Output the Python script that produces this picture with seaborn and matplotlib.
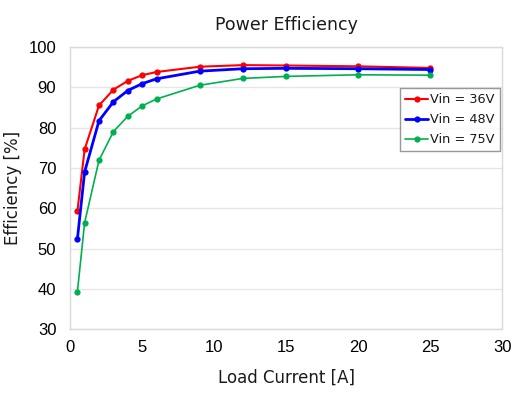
import numpy as np
import pandas as pd
import matplotlib
matplotlib.use("Agg")
import matplotlib.pyplot as plt
import seaborn as sns

# load current [A]
load_current = [0.5, 1, 2, 3, 4, 5, 6, 9, 12, 15, 20, 25]

# efficiency [%]
eff_36v = [59.3, 74.6, 85.5, 89.4, 91.6, 93.0, 93.8, 95.1, 95.5, 95.4, 95.2, 94.8]
eff_48v = [52.4, 69.0, 81.7, 86.4, 89.2, 90.9, 92.1, 94.0, 94.6, 94.7, 94.6, 94.4]
eff_75v = [39.3, 56.4, 71.9, 79.0, 82.8, 85.4, 87.1, 90.5, 92.2, 92.7, 93.1, 93.0]

series = ["Vin = 36V", "Vin = 48V", "Vin = 75V"]
colors = ["#FF0000", "#0000FF", "#00B050"]
widths = [1.5, 2.0, 1.2]

df = pd.DataFrame({
    "current": load_current * 3,
    "eff": eff_36v + eff_48v + eff_75v,
    "vin": np.repeat(series, len(load_current)),
})

sns.set_style("white")
plt.rcParams['font.family'] = ['DejaVu Sans']
plt.rcParams['text.color'] = '#1A1A1A'
plt.rcParams['axes.labelcolor'] = '#1A1A1A'

fig, ax = plt.subplots(figsize=(5.28, 3.98), dpi=100)
fig.subplots_adjust(left=0.133, right=0.951, top=0.882, bottom=0.173)

for name, col, lw in zip(series, colors, widths):
    sub = df[df["vin"] == name]
    sns.lineplot(data=sub, x="current", y="eff", ax=ax, color=col, linewidth=lw,
                 marker="o", markersize=4.5, markeredgewidth=0, label=name)

ax.set_xlim(0, 30)
ax.set_ylim(30, 100)
ax.set_xticks(range(0, 31, 5))
ax.set_yticks(range(30, 101, 10))
ax.yaxis.grid(True, color="#E6E6E6", linewidth=1)
ax.xaxis.grid(False)
for s in ax.spines.values():
    s.set_color("#D9D9D9")
    s.set_linewidth(1)
ax.tick_params(axis="y", length=0, labelsize=12, pad=10, labelcolor="black")
ax.tick_params(axis="x", length=0, labelsize=12, pad=8, labelcolor="black")
for lab in ax.get_xticklabels() + ax.get_yticklabels():
    lab.set_fontfamily("Liberation Sans")

ax.set_title("Power Efficiency", fontsize=12.5, pad=12)
ax.set_xlabel("Load Current [A]", fontsize=12, labelpad=10)
ax.set_ylabel("Efficiency [%]", fontsize=12, labelpad=5)

leg = ax.legend(loc="upper right", bbox_to_anchor=(0.995, 0.855), fontsize=9.3,
                frameon=True, fancybox=False, handlelength=1.8, handletextpad=0.15,
                borderpad=0.4, labelspacing=0.55, borderaxespad=0)
leg.get_frame().set_edgecolor("#7F7F7F")
leg.get_frame().set_linewidth(1)

fig.savefig("out.png", dpi=100)
